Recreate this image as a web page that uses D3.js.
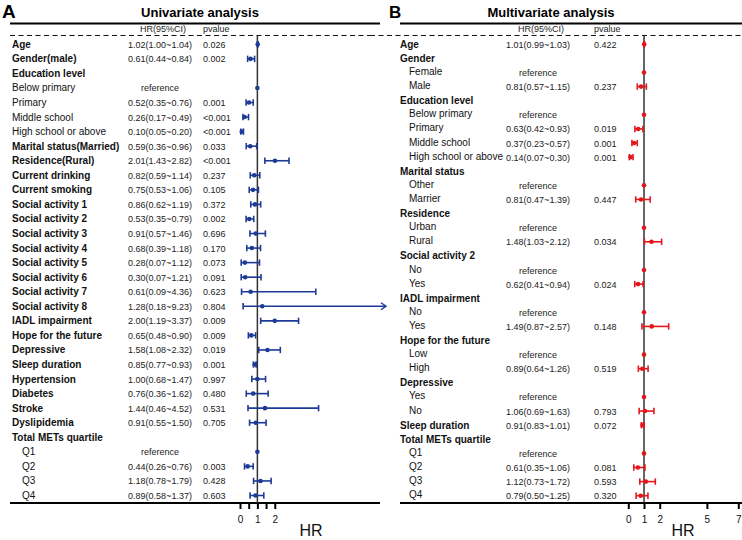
<!DOCTYPE html>
<html lang="en">
<head>
<meta charset="utf-8">
<title>forest plots</title>
<script src="https://d3js.org/d3.v7.min.js"></script>
<style>
  body { margin: 0; background: #fff; }
  svg { display: block; font-family: "Liberation Sans", Arial, sans-serif; }
  .lbl { font-size: 10px; fill: #111; }
  .lbl.b { font-weight: bold; }
  .val { font-size: 9px; fill: #222; }
  .Axis text { font-size: 10px; fill: #111; font-family: "Liberation Sans", Arial, sans-serif; }
  .Axis line { stroke: #000; stroke-width: 2; }
  .Axis path { display: none; }
</style>
</head>
<body>
<script>
// ---- Univariate (A) ----
var uniLabels = ["Age", "Gender(male)", "Education level", "Below primary", "Primary", "Middle school",
  "High school or above", "Marital status(Married)", "Residence(Rural)", "Current drinking", "Current smoking",
  "Social activity 1", "Social activity 2", "Social activity 3", "Social activity 4", "Social activity 5",
  "Social activity 6", "Social activity 7", "Social activity 8", "IADL impairment", "Hope for the future",
  "Depressive", "Sleep duration", "Hypertension", "Diabetes", "Stroke", "Dyslipidemia",
  "Total METs quartile", "Q1", "Q2", "Q3", "Q4"];
// 0 = bold row, 1 = plain row, 2 = plain indented row
var uniLevel = [0,0,0,1,1,1,1,0,0,0,0,0,0,0,0,0,0,0,0,0,0,0,0,0,0,0,0,0,2,2,2,2];
// null = heading only, "ref" = reference row
var uniHR  = [1.02,0.61,null,"ref",0.52,0.26,0.10,0.59,2.01,0.82,0.75,0.86,0.53,0.91,0.68,0.28,0.30,0.61,1.28,2.00,0.65,1.58,0.85,1.00,0.76,1.44,0.91,null,"ref",0.44,1.18,0.89];
var uniLow = [1.00,0.44,null,null,0.35,0.17,0.05,0.36,1.43,0.59,0.53,0.62,0.35,0.57,0.39,0.07,0.07,0.09,0.18,1.19,0.48,1.08,0.77,0.68,0.36,0.46,0.55,null,null,0.26,0.78,0.58];
var uniHigh= [1.04,0.84,null,null,0.76,0.49,0.20,0.96,2.82,1.14,1.06,1.19,0.79,1.46,1.18,1.12,1.21,4.36,9.23,3.37,0.90,2.32,0.93,1.47,1.62,4.52,1.50,null,null,0.76,1.79,1.37];
var uniP   = ["0.026","0.002","","","0.001","<0.001","<0.001","0.033","<0.001","0.237","0.105","0.372","0.002","0.696","0.170","0.073","0.091","0.623","0.804","0.009","0.009","0.019","0.001","0.997","0.480","0.531","0.705","","","0.003","0.428","0.603"];
var uniTicks = [0, 0.5, 1, 1.5, 2];

// ---- Multivariate (B) ----
var mulLabels = ["Age", "Gender", "Female", "Male", "Education level", "Below primary", "Primary", "Middle school",
  "High school or above", "Marital status", "Other", "Marrier", "Residence", "Urban", "Rural", "Social activity 2",
  "No", "Yes", "IADL impairment", "No", "Yes", "Hope for the future", "Low", "High", "Depressive", "Yes", "No",
  "Sleep duration", "Total METs quartile", "Q1", "Q2", "Q3", "Q4"];
var mulLevel = [0,0,2,2,0,2,2,2,2,0,2,2,0,2,2,0,2,2,0,2,2,0,2,2,0,2,2,0,0,2,2,2,2];
var mulHR  = [1.01,null,"ref",0.81,null,"ref",0.63,0.37,0.14,null,"ref",0.81,null,"ref",1.48,null,"ref",0.62,null,"ref",1.49,null,"ref",0.89,null,"ref",1.06,0.91,null,"ref",0.61,1.12,0.79];
var mulLow = [0.99,null,null,0.57,null,null,0.42,0.23,0.07,null,null,0.47,null,null,1.03,null,null,0.41,null,null,0.87,null,null,0.64,null,null,0.69,0.83,null,null,0.35,0.73,0.50];
var mulHigh= [1.03,null,null,1.15,null,null,0.93,0.57,0.30,null,null,1.39,null,null,2.12,null,null,0.94,null,null,2.57,null,null,1.26,null,null,1.63,1.01,null,null,1.06,1.72,1.25];
var mulP   = ["0.422","","","0.237","","","0.019","0.001","0.001","","","0.447","","","0.034","","","0.024","","","0.148","","","0.519","","","0.793","0.072","","","0.081","0.593","0.320"];
var mulTicks = [0, 1, 2, 5, 7];

const W = 742, H = 540;
var svg = d3.select("body").append("svg").attr("width", W).attr("height", H);

function rows(labels, level, hr, lo, hi, p) {
  return labels.map((l, i) => ({label: l, level: level[i], hr: hr[i], lo: lo[i], hi: hi[i], p: p[i]}));
}

var panels = [
  {letter: "A", lx: 2, title: "Univariate analysis", tx: 200,
   x0: 10, x1: 380, dashTo: 370, labX: 12, indX: 12, ind2X: 22, hrX: 160, pX: 203,
   data: rows(uniLabels, uniLevel, uniHR, uniLow, uniHigh, uniP),
   xs: d3.scaleLinear().domain([0, 8.4]).range([240, 386]),
   ticks: uniTicks, color: "#1d3a97", yFirst: 44.3, yLast: 495.5, hrLabX: 311},
  {letter: "B", lx: 389, title: "Multivariate analysis", tx: 551,
   x0: 400, x1: 742, dashFrom: 370, labX: 400, indX: 409, ind2X: 409, hrX: 538, pX: 594,
   data: rows(mulLabels, mulLevel, mulHR, mulLow, mulHigh, mulP),
   xs: d3.scaleLinear().domain([0, 7]).range([628.3, 738.3]),
   ticks: mulTicks, color: "#e3161c", yFirst: 44.3, yLast: 495.7, hrLabX: 683}
];

var drawPanel = function(P) {
  var g = svg.append("g");
  var ys = d3.scaleLinear().domain([0, P.data.length - 1]).range([P.yFirst, P.yLast]);
  var xs = P.xs;

  g.append("text").attr("x", P.lx).attr("y", 18).text(P.letter)
    .attr("font-size", P.letter == "A" ? "19px" : "17px").attr("font-weight", "bold");
  g.append("text").attr("x", P.tx).attr("y", 17).attr("text-anchor", "middle")
    .attr("font-size", "13px").attr("font-weight", "bold").text(P.title);

  // top rule + dashed header rule
  g.append("line").attr("x1", P.x0).attr("x2", P.x1).attr("y1", 23.5).attr("y2", 23.5)
    .attr("stroke", "#000").attr("stroke-width", 2);
  g.append("line").attr("x1", P.dashFrom || P.x0).attr("x2", P.dashTo || P.x1).attr("y1", 35.5).attr("y2", 35.5)
    .attr("stroke", "#111").attr("stroke-width", 1.2).attr("stroke-dasharray", "5,3.5");

  g.append("text").attr("class", "val").attr("x", P.hrX + 3).attr("y", 32).attr("text-anchor", "middle").text("HR(95%CI)");
  g.append("text").attr("class", "val").attr("x", P.pX).attr("y", 32).text("pvalue");

  // bottom axis rule
  var axisY = 503;
  g.append("line").attr("x1", P.x0).attr("x2", P.x1).attr("y1", axisY).attr("y2", axisY)
    .attr("stroke", "#000").attr("stroke-width", 2);

  // reference line at HR = 1
  g.append("line").attr("x1", xs(1)).attr("x2", xs(1)).attr("y1", 36).attr("y2", axisY)
    .attr("stroke", "#333").attr("stroke-width", 1.5);

  var ax = d3.axisBottom(xs).tickValues(P.ticks).tickSize(6).tickPadding(7)
    .tickFormat(d => Number.isInteger(d) ? d : "");
  g.append("g").attr("class", "Axis").attr("transform", "translate(0," + axisY + ")").call(ax);
  g.append("text").attr("x", P.hrLabX).attr("y", 536).attr("text-anchor", "middle")
    .attr("font-size", "16px").attr("fill", "#111").text("HR");

  var row = g.selectAll("g.row").data(P.data).enter().append("g").attr("class", "row")
    .attr("transform", (d, i) => "translate(0," + ys(i) + ")");

  row.append("text")
    .attr("class", d => "lbl" + (d.level == 0 ? " b" : ""))
    .attr("x", d => d.level == 0 ? P.labX : (d.level == 1 ? P.indX : P.ind2X))
    .attr("y", d => d.level == 2 && P.letter == "B" ? 2.5 : 3.5)
    .text(d => d.label);

  row.filter(d => d.hr != null).append("text").attr("class", "val")
    .attr("x", P.hrX).attr("y", 3.5).attr("text-anchor", "middle")
    .text(d => d.hr == "ref" ? "reference" : d.hr.toFixed(2) + "(" + d.lo.toFixed(2) + "~" + d.hi.toFixed(2) + ")");
  row.append("text").attr("class", "val").attr("x", P.pX).attr("y", 3.5).text(d => d.p);

  var maxV = xs.domain()[1];
  var ci = row.filter(d => d.hr != null && d.hr != "ref");
  ci.append("line").attr("x1", d => xs(d.lo)).attr("x2", d => xs(Math.min(d.hi, maxV)))
    .attr("stroke", P.color).attr("stroke-width", 1.6);
  ci.append("line").attr("x1", d => xs(d.lo)).attr("x2", d => xs(d.lo)).attr("y1", -3.2).attr("y2", 3.2)
    .attr("stroke", P.color).attr("stroke-width", 1.6);
  ci.filter(d => d.hi <= maxV).append("line")
    .attr("x1", d => xs(d.hi)).attr("x2", d => xs(d.hi)).attr("y1", -3.2).attr("y2", 3.2)
    .attr("stroke", P.color).attr("stroke-width", 1.6);
  // arrow for intervals running off the scale
  ci.filter(d => d.hi > maxV).append("path")
    .attr("d", "M" + (xs(maxV) - 5) + ",-3.5L" + xs(maxV) + ",0L" + (xs(maxV) - 5) + ",3.5")
    .attr("fill", "none").attr("stroke", P.color).attr("stroke-width", 1.4);

  row.filter(d => d.hr != null).append("circle")
    .attr("cx", d => xs(d.hr == "ref" ? 1 : d.hr)).attr("r", 2.3).attr("fill", P.color);
};

panels.forEach(drawPanel);
</script>
</body>
</html>
